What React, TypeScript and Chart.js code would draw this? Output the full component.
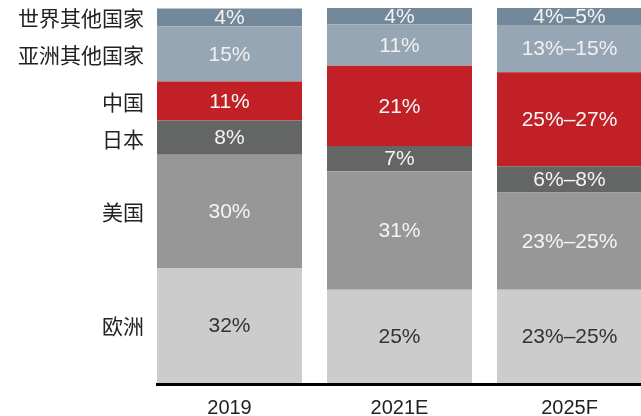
import React, { useEffect, useRef } from "react";
import { Chart, registerables } from "chart.js";

Chart.register(...registerables);

const categories = ["2019", "2021E", "2025F"];
const regions = ["欧洲", "美国", "日本", "中国", "亚洲其他国家", "世界其他国家"];
const europe = [30.7, 24.9, 24.9];
const usa = [30.2, 31.6, 25.9];
const japan = [9.1, 6.7, 7.0];
const china = [10.4, 21.4, 25.1];
const otherAsia = [14.7, 11.0, 12.6];
const restOfWorld = [4.8, 4.5, 4.5];
const europeText = ["32%", "25%", "23%–25%"];
const usaText = ["30%", "31%", "23%–25%"];
const japanText = ["8%", "7%", "6%–8%"];
const chinaText = ["11%", "21%", "25%–27%"];
const otherAsiaText = ["15%", "11%", "13%–15%"];
const restOfWorldText = ["4%", "4%", "4%–5%"];

const colors = ["#cccccc", "#979797", "#646665", "#c02026", "#97a6b5", "#74889b"];
const textColors = ["#333333", "#f4f4f4", "#f4f4f4", "#f8f8f8", "#f0f0f0", "#f4f4f4"];

const values = [europe, usa, japan, china, otherAsia, restOfWorld];
const texts = [europeText, usaText, japanText, chinaText, otherAsiaText, restOfWorldText];

const FONT = '"Liberation Sans", Arial, sans-serif';
const CJK = '"Noto Sans CJK SC", sans-serif';

const labelPlugin = {
  id: "segLabels",
  afterDatasetsDraw(chart: any) {
    const ctx = chart.ctx;
    ctx.save();
    chart.data.datasets.forEach((ds: any, i: number) => {
      const meta = chart.getDatasetMeta(i);
      meta.data.forEach((el: any, j: number) => {
        const cy = (el.y + el.base) / 2 + 1;
        ctx.font = `21px ${FONT}`;
        ctx.fillStyle = textColors[i];
        ctx.textAlign = "center";
        ctx.textBaseline = "middle";
        ctx.fillText(texts[i][j], el.x, cy);
        if (j === 0) {
          ctx.font = `21px ${CJK}`;
          ctx.fillStyle = "#222222";
          ctx.textAlign = "right";
          ctx.fillText(ds.label, el.x - el.width / 2 - 13, cy);
        }
      });
    });
    // baseline axis line from first bar's left edge to the right edge
    const first = chart.getDatasetMeta(0).data[0];
    const y = chart.chartArea.bottom + 1.5;
    ctx.strokeStyle = "#000000";
    ctx.lineWidth = 3;
    ctx.beginPath();
    ctx.moveTo(first.x - first.width / 2 - 1, y);
    ctx.lineTo(chart.width, y);
    ctx.stroke();
    ctx.restore();
  },
};

export default function App() {
  const ref = useRef<HTMLCanvasElement | null>(null);
  useEffect(() => {
    if (!ref.current) return;
    const chart = new Chart(ref.current, {
      type: "bar",
      data: {
        labels: categories,
        datasets: regions.map((r, i) => ({
          label: r,
          data: values[i],
          backgroundColor: colors[i],
          borderWidth: 0,
          barPercentage: 145 / 170,
          categoryPercentage: 1,
        })),
      },
      options: {
        responsive: false,
        animation: false,
        devicePixelRatio: 1,
        layout: { padding: { left: 144.5, right: 25.5, top: 8, bottom: 2 } },
        plugins: { legend: { display: false }, tooltip: { enabled: false } },
        scales: {
          x: {
            stacked: true,
            grid: { display: false },
            border: { display: false },
            ticks: { color: "#222222", font: { family: FONT, size: 20 }, padding: 5 },
          },
          y: {
            stacked: true,
            display: false,
            min: 0,
            max: 100,
          },
        },
      },
      plugins: [labelPlugin],
    });
    return () => chart.destroy();
  }, []);
  return (
    <div style={{ position: "fixed", left: 0, top: 0, width: 641, height: 416, overflow: "hidden", background: "#fff" }}>
      <canvas ref={ref} width={680} height={427} style={{ display: "block", width: 680, height: 427 }} />
    </div>
  );
}
